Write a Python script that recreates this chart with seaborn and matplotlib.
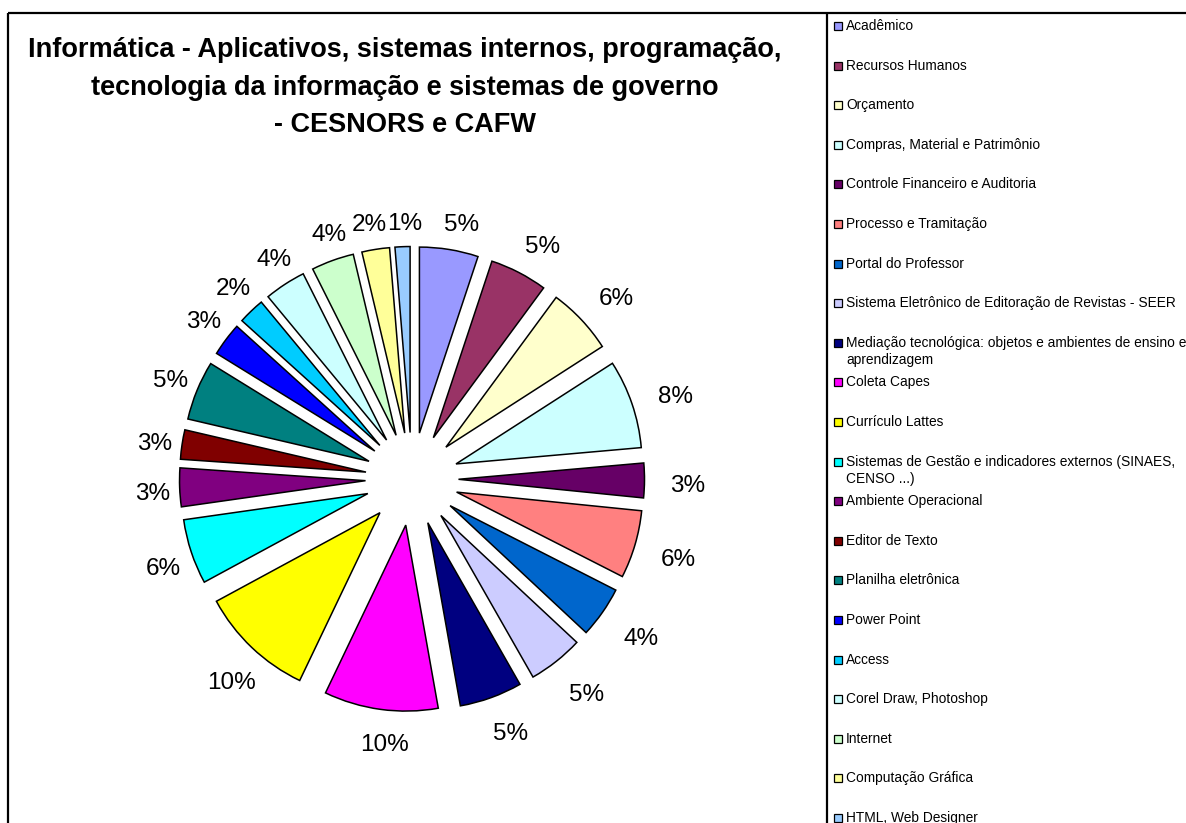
import matplotlib
matplotlib.use('Agg')
import matplotlib.pyplot as plt
import seaborn as sns
import numpy as np
from matplotlib.patches import Rectangle

categorias = [
    "Acadêmico",
    "Recursos Humanos",
    "Orçamento",
    "Compras, Material e Patrimônio",
    "Controle Financeiro e Auditoria",
    "Processo e Tramitação",
    "Portal do Professor",
    "Sistema Eletrônico de Editoração de Revistas - SEER",
    "Mediação tecnológica: objetos e ambientes de ensino e\naprendizagem",
    "Coleta Capes",
    "Currículo Lattes",
    "Sistemas de Gestão e indicadores externos (SINAES,\nCENSO ...)",
    "Ambiente Operacional",
    "Editor de Texto",
    "Planilha eletrônica",
    "Power Point",
    "Access",
    "Corel Draw, Photoshop",
    "Internet",
    "Computação Gráfica",
    "HTML, Web Designer",
]
valores = [5.1, 5.0, 5.8, 7.7, 3.0, 5.9, 4.45, 4.8, 5.45, 9.9, 10.0,
           5.65, 3.35, 2.55, 5.15, 2.9, 2.3, 3.6, 3.7, 2.4, 1.3]
cores = [
    "#9999FF", "#993366", "#FFFFCC", "#CCFFFF", "#660066", "#FF8080",
    "#0066CC", "#CCCCFF", "#000080", "#FF00FF", "#FFFF00", "#00FFFF",
    "#800080", "#800000", "#008080", "#0000FF", "#00CCFF", "#CCFFFF",
    "#CCFFCC", "#FFFF99", "#99CCFF",
]
titulo = [
    "Informática - Aplicativos, sistemas internos, programação,",
    "tecnologia da informação e sistemas de governo",
    "- CESNORS e CAFW",
]

sns.set_theme(style="white")
plt.rcParams['font.family'] = ['Liberation Sans', 'DejaVu Sans']
plt.rcParams['text.color'] = 'black'

W, H = 1186, 823
fig = plt.figure(figsize=(W / 100, H / 100), dpi=100)
ax = fig.add_axes([0, 0, 1, 1])

# pie in pixel coordinates (y up); explode is in data units here
R = 186
cx, cy = 412, H - 479
wedges, texts, autotexts = ax.pie(
    valores, colors=cores, startangle=90, counterclock=False,
    explode=[46.5] * len(valores), radius=R, center=(cx, cy),
    autopct='%1.0f%%', pctdistance=1.17,
    wedgeprops=dict(edgecolor='black', linewidth=1.1),
    textprops=dict(fontsize=17.5, color='black'), frame=False)
ax.set_xlim(0, W)
ax.set_ylim(0, H)
ax.set_aspect('equal')
ax.axis('off')

# Excel-like "outside end" labels: the label box keeps a fixed gap
fig.canvas.draw()
ren = fig.canvas.get_renderer()
for t, w in zip(autotexts, wedges):
    bb = t.get_window_extent(ren)
    ang = np.deg2rad((w.theta1 + w.theta2) / 2)
    d = 250 + bb.width / 2 * abs(np.cos(ang)) + 10 * abs(np.sin(ang))
    t.set_position((cx + 8 + d * np.cos(ang), cy - 5 + d * np.sin(ang)))
# small neighbouring labels at the top: nudge so they don't collide
for t, dx in zip(autotexts[-2:], [-10, -5]):
    x, y = t.get_position()
    t.set_position((x + dx, y))

# title
for i, linha in enumerate(titulo):
    ax.text(405, H - (50 + i * 37.5), linha, ha='center', va='center',
            fontsize=19.5, fontweight='bold', color='black')

# frame lines
kw = dict(color='black', lw=1.6, clip_on=False, solid_capstyle='butt')
ax.plot([8, W], [H - 13, H - 13], **kw)
ax.plot([8, 8], [0, H - 13], **kw)
ax.plot([827, 827], [0, H - 13], **kw)

# legend
for i, (cat, cor) in enumerate(zip(categorias, cores)):
    y = H - (26 + i * 39.6)
    ax.add_patch(Rectangle((834, y - 4), 8, 8, facecolor=cor,
                           edgecolor='black', lw=0.9, clip_on=False))
    for k, parte in enumerate(cat.split('\n')):
        ax.text(846, y - k * 17, parte, ha='left', va='center',
                fontsize=9.9, color='black')

fig.savefig('out.png', dpi=100)
